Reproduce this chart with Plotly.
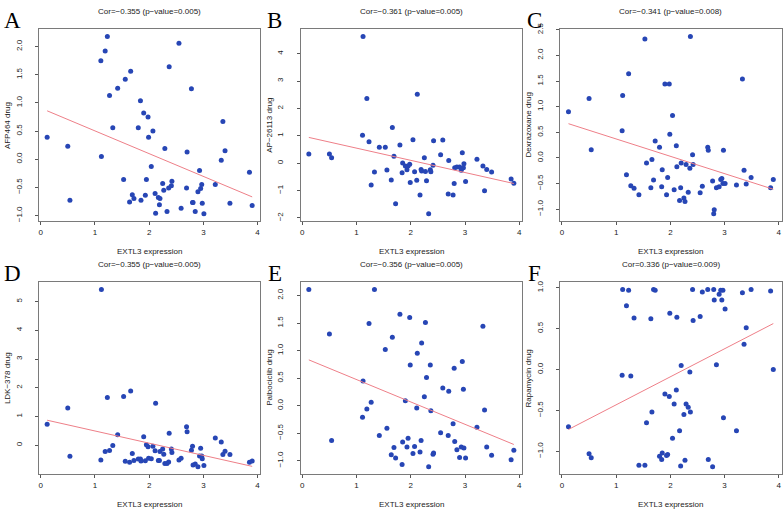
import numpy as np
import plotly.graph_objects as go

# EXTL3 expression (shared across the 60 cell lines)
extl3 = [0.12, 0.50, 0.54, 1.11, 1.12, 1.19, 1.23, 1.27, 1.33, 1.42,
         1.53, 1.56, 1.64, 1.66, 1.69, 1.72, 1.80, 1.84, 1.85, 1.90,
         1.93, 1.95, 1.98, 1.99, 2.04, 2.07, 2.11, 2.12, 2.17, 2.19,
         2.20, 2.25, 2.27, 2.29, 2.33, 2.36, 2.37, 2.41, 2.42, 2.55,
         2.59, 2.69, 2.70, 2.78, 2.80, 2.81, 2.85, 2.90, 2.93, 2.95,
         2.97, 2.98, 3.01, 3.22, 3.33, 3.36, 3.40, 3.49, 3.85, 3.90]

afp464 = [0.39, 0.23, -0.73, 1.75, 0.05, 1.92, 2.18, 1.13, 0.56, 1.26,
          -0.36, 1.42, -0.76, 1.56, -0.63, -0.70, 0.56, 1.04, -0.73, 0.82,
          -0.64, -0.36, 0.75, 0.39, -0.13, 0.50, -0.61, -0.96, -0.68, -0.81,
          -0.70, -0.43, -0.55, 0.19, -0.93, -0.51, 1.64, -0.47, -0.39, 2.06,
          -0.87, -0.51, 0.13, 1.25, -0.77, -0.77, -0.93, -0.58, -0.20, -0.52,
          -0.45, -0.78, -0.97, -0.45, -0.02, 0.67, 0.15, -0.78, -0.23, -0.82]

ap26113 = [0.34, 0.34, 0.20, 1.02, 4.63, 2.36, 0.78, -0.80, -0.32, 0.58,
           0.58, -0.25, -0.61, 1.30, 0.25, -1.48, 0.66, -0.35, 0.01, -0.10,
           -0.24, -0.10, -0.04, -0.71, 0.86, -0.31, -0.62, 2.52, -1.16, -0.23,
           -0.29, 0.20, -0.30, -0.64, -1.85, -0.24, -0.31, -0.08, 0.82, 0.31,
           0.85, -1.13, 0.10, -1.16, -0.74, -0.17, -0.14, -0.14, -0.26, 0.38,
           -0.17, -0.02, -0.67, 0.14, -0.10, -1.01, -0.23, -0.32, -0.58, -0.73]

dexrazoxane = [0.90, 1.16, 0.16, 0.53, 1.22, -0.33, 1.64, -0.54, -0.59, -0.72,
               2.32, -0.10, -0.58, -0.03, -0.43, 0.33, 0.21, -0.56, -0.23, 1.44,
               -0.72, -0.38, 1.44, 0.46, 0.83, -0.62, 0.24, -0.17, -0.83, -0.58,
               -0.10, -0.78, -0.85, -0.13, -0.67, -0.20, 2.37, 0.06, -0.13, -0.68,
               -0.55, 0.21, 0.15, -0.45, -1.09, -1.01, -0.58, -0.56, -0.42, -0.40,
               -0.50, 0.15, -0.50, -0.53, 1.54, -0.24, -0.51, -0.38, -0.58, -0.42]

ldk378 = [0.73, 1.30, -0.38, -0.51, 5.42, -0.22, 1.66, -0.18, -0.01, 0.37,
          1.70, -0.56, -0.59, 1.89, -0.29, -0.53, -0.48, -0.48, -0.55, 0.30,
          -0.54, 0.02, -0.05, -0.45, -0.47, -0.03, -0.19, 1.46, -0.53, -0.53,
          -0.22, -0.13, -0.31, -0.63, -0.63, -0.58, 0.42, -0.13, -0.25, -0.51,
          -0.45, 0.64, 0.47, -0.17, -0.03, -0.69, -0.65, -0.75, -0.37, -0.10,
          -0.37, -0.47, -0.70, 0.25, 0.11, -0.32, -0.21, -0.32, -0.59, -0.55]

palbociclib = [2.11, 1.30, -0.63, -0.21, 0.45, -0.06, 1.49, 0.06, 2.11, -0.54,
               1.02, -0.41, -0.89, 1.24, -0.76, -0.95, 1.66, -1.07, -0.66, 0.09,
               -0.75, -0.59, 1.60, 0.74, -0.87, -0.74, -0.04, 0.95, -0.84, -0.63,
               1.14, 0.16, 1.51, 0.51, -1.11, 0.74, -0.09, -0.88, -0.86, -0.49,
               0.32, -0.54, 0.26, -0.33, 0.68, -0.65, -0.80, -0.94, -0.75, 0.80,
               0.30, -0.77, -0.95, -0.39, 1.44, -0.08, -0.75, -0.90, -0.98, -0.81]

rapamycin = [-0.70, -1.03, -1.08, -0.07, 0.98, 0.78, 0.97, -0.08, 0.63, -1.17,
             -1.17, -0.65, 0.62, -0.52, 0.98, 0.97, -1.06, -1.10, -1.02, -0.30,
             -1.05, -1.04, -0.33, 0.69, -0.84, -0.42, -0.25, 0.64, -0.75, -1.18,
             0.05, -0.55, -1.11, -0.42, -0.46, -0.03, -0.52, 0.98, 0.60, 0.65,
             0.95, 0.98, -1.10, -1.19, 0.98, 0.85, 0.06, 0.92, 0.97, 0.85,
             0.97, -0.59, 0.74, -0.75, 0.94, 0.31, 0.51, 0.98, 0.96, -0.00]

panel_letters = ["A", "B", "C", "D", "E", "F"]
drug_labels = ["AFP464 drug", "AP\u221226113 drug", "Dexrazoxane drug",
               "LDK\u2212378 drug", "Palbociclib drug", "Rapamycin drug"]
cor_titles = ["Cor=\u22120.355 (p\u2212value=0.005)",
              "Cor=\u22120.361 (p\u2212value=0.005)",
              "Cor=\u22120.341 (p\u2212value=0.008)",
              "Cor=\u22120.355 (p\u2212value=0.005)",
              "Cor=\u22120.356 (p\u2212value=0.005)",
              "Cor=0.336 (p\u2212value=0.009)"]
y_tick_values = [[-1.0, -0.5, 0.0, 0.5, 1.0, 1.5, 2.0],
                 [-2, -1, 0, 1, 2, 3, 4],
                 [-1.0, -0.5, 0.0, 0.5, 1.0, 1.5, 2.0, 2.5],
                 [0, 1, 2, 3, 4, 5],
                 [-1.0, -0.5, 0.0, 0.5, 1.0, 1.5, 2.0],
                 [-1.0, -0.5, 0.0, 0.5, 1.0]]
y_tick_decimals = [1, 0, 1, 0, 1, 1]
x_tick_values = [0, 1, 2, 3, 4]
drug_series = [afp464, ap26113, dexrazoxane, ldk378, palbociclib, rapamycin]

W, H = 784, 514
col_x = [(38.0, 259.7), (300.0, 521.7), (560.0, 781.5)]
col_off = [0, 262, 522]
row_y = [(22.7, 217.3), (279.7, 474.3)]
row_off = [0, 257]

FONT = "Liberation Sans, Arial, sans-serif"
DOT = "#2746b5"
LINE = "#ee7f88"

def rrange(v):
    lo, hi = float(np.min(v)), float(np.max(v))
    pad = 0.04 * (hi - lo)
    return [lo - pad, hi + pad]

def fmt(v, d):
    s = f"{v:.{d}f}"
    return s.replace("-", "\u2212")

fig = go.Figure()
layout = dict(width=W, height=H, margin=dict(l=0, r=0, t=0, b=0),
              paper_bgcolor="white", plot_bgcolor="white", showlegend=False,
              autosize=False)
annotations = []
x = np.array(extl3)

for i, yv in enumerate(drug_series):
    r, c = divmod(i, 3)
    sfx = "" if i == 0 else str(i + 1)
    xa, ya = "x" + sfx, "y" + sfx
    y = np.array(yv)
    fig.add_trace(go.Scatter(x=x, y=y, mode="markers", xaxis=xa, yaxis=ya,
                             marker=dict(color=DOT, size=5, line=dict(width=0))))
    slope, icpt = np.polyfit(x, y, 1)
    xl = np.array([x.min(), x.max()])
    fig.add_trace(go.Scatter(x=xl, y=icpt + slope * xl, mode="lines",
                             xaxis=xa, yaxis=ya,
                             line=dict(color=LINE, width=1)))
    x0, x1 = col_x[c]
    y0, y1 = row_y[r]
    common = dict(showgrid=False, zeroline=False, showline=True, mirror=True,
                  linecolor="#7a7a7a", linewidth=1, ticks="outside", ticklen=3,
                  tickwidth=1, tickcolor="#555555",
                  tickfont=dict(family=FONT, size=8, color="#222222"))
    layout["xaxis" + sfx] = dict(domain=[x0 / W, x1 / W], anchor=ya,
                                 range=rrange(x), tickvals=x_tick_values,
                                 ticktext=[str(t) for t in x_tick_values],
                                 ticklabelstandoff=0, **common)
    tv = y_tick_values[i]
    layout["yaxis" + sfx] = dict(domain=[1 - y1 / H, 1 - y0 / H], anchor=xa,
                                 range=rrange(y), tickvals=tv,
                                 ticktext=[fmt(t, y_tick_decimals[i]) for t in tv],
                                 tickangle=-90, ticklabelstandoff=10, **common)
    cx = (x0 + x1) / 2
    # title
    annotations.append(dict(text=cor_titles[i], xref="paper", yref="paper",
                            x=cx / W, y=1 - (row_off[r] + 4.7) / H,
                            xanchor="center", yanchor="middle", showarrow=False,
                            font=dict(family=FONT, size=8, color="#222222")))
    # x title
    annotations.append(dict(text="EXTL3 expression", xref="paper", yref="paper",
                            x=cx / W, y=1 - (row_off[r] + 248.3) / H,
                            xanchor="center", yanchor="middle", showarrow=False,
                            font=dict(family=FONT, size=8, color="#222222")))
    # y title
    annotations.append(dict(text=drug_labels[i], xref="paper", yref="paper",
                            x=(col_off[c] + 6) / W, y=1 - ((y0 + y1) / 2) / H,
                            xanchor="center", yanchor="middle", textangle=-90,
                            showarrow=False,
                            font=dict(family=FONT, size=8, color="#222222")))
    # panel letter
    annotations.append(dict(text=panel_letters[i], xref="paper", yref="paper",
                            x=(col_off[c] + 12) / W, y=1 - (row_off[r] + 13.5) / H,
                            xanchor="center", yanchor="middle", showarrow=False,
                            font=dict(family="Liberation Serif, Times New Roman, serif",
                                      size=23, color="#000000")))

layout["annotations"] = annotations
fig.update_layout(**layout)
fig.write_html("out.html", config={"displayModeBar": False},
               post_script="document.body.style.margin='0';document.body.style.overflow='hidden';")
